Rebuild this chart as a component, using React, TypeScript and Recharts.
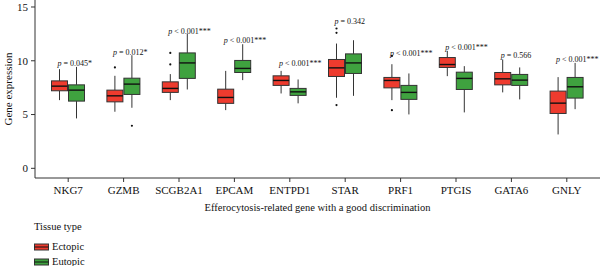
import React from 'react';
import { ComposedChart, Bar, XAxis, YAxis } from 'recharts';

const genes = ['NKG7', 'GZMB', 'SCGB2A1', 'EPCAM', 'ENTPD1', 'STAR', 'PRF1', 'PTGIS', 'GATA6', 'GNLY'];

// Ectopic tissue: five-number summaries + outliers
const ectopicMin = [6.34, 5.26, 6.34, 5.41, 6.96, 6.56, 6.34, 8.57, 7.06, 3.15];
const ectopicQ1 = [7.21, 6.18, 7.06, 6.04, 7.71, 8.54, 7.48, 9.38, 7.76, 5.1];
const ectopicMedian = [7.64, 6.74, 7.43, 6.59, 8.17, 9.34, 8.17, 9.65, 8.32, 6.06];
const ectopicQ3 = [8.13, 7.27, 8.04, 7.36, 8.6, 10.12, 8.45, 10.3, 8.91, 7.18];
const ectopicMax = [9.22, 8.6, 8.76, 9.06, 9.06, 11.6, 9.68, 10.92, 10.12, 8.48];
const ectopicOutliers = [[], [9.38], [10.73, 9.66], [], [], [13.0, 12.6, 5.88], [10.45, 5.41], [], [], []];

// Eutopic tissue
const eutopicMin = [4.64, 5.63, 7.33, 8.2, 6.04, 6.74, 5.01, 5.2, 6.41, 5.5];
const eutopicQ1 = [6.25, 6.87, 8.36, 8.91, 6.78, 8.82, 6.41, 7.33, 7.71, 6.53];
const eutopicMedian = [7.27, 7.83, 9.8, 9.29, 7.11, 9.8, 7.06, 8.36, 8.2, 7.58];
const eutopicQ3 = [7.76, 8.38, 10.73, 10.03, 7.43, 10.64, 7.71, 8.94, 8.73, 8.45];
const eutopicMax = [9.43, 10.52, 12.53, 11.54, 8.26, 11.91, 8.82, 9.5, 9.38, 9.8];
const eutopicOutliers = [[], [3.96], [], [], [], [], [], [], [], []];

// Wilcoxon p-values and the height they are printed at
const pText = ['= 0.045*', '= 0.012*', '< 0.001***', '< 0.001***', '< 0.001***', '= 0.342', '< 0.001***', '< 0.001***', '= 0.566', '< 0.001***'];
const pLabelAt = [9.78, 10.8, 12.78, 11.91, 9.8, 13.7, 10.68, 11.29, 10.49, 10.12];

const yTicks = [0, 5, 10, 15];

const RED = '#EE3B2E';
const GREEN = '#3FA23F';
const LINE = '#333';
const FONT = '"Liberation Serif", "Times New Roman", serif';

const rows = genes.map((gene, i) => ({
  gene,
  ectopicBox: [ectopicQ1[i], ectopicQ3[i]],
  eutopicBox: [eutopicQ1[i], eutopicQ3[i]],
  ectopic: {
    min: ectopicMin[i], q1: ectopicQ1[i], median: ectopicMedian[i], q3: ectopicQ3[i], max: ectopicMax[i],
    outliers: ectopicOutliers[i],
  },
  eutopic: {
    min: eutopicMin[i], q1: eutopicQ1[i], median: eutopicMedian[i], q3: eutopicQ3[i], max: eutopicMax[i],
    outliers: eutopicOutliers[i],
  },
  p: pText[i],
  pAt: pLabelAt[i],
}));

// draws whiskers, box, median and outliers from the bar's own pixel box
function BoxPlotShape(props: any) {
  const { x, y, width, height, payload, group, fill } = props;
  const s = payload[group];
  const top = Math.min(y, y + height);
  const h = Math.abs(height);
  const ppu = h / (s.q3 - s.q1);
  const toY = (v: number) => top + (s.q3 - v) * ppu;
  const cx = x + width / 2;
  return (
    <g>
      <line x1={cx} x2={cx} y1={toY(s.max)} y2={toY(s.q3)} stroke={LINE} strokeWidth={1} />
      <line x1={cx} x2={cx} y1={toY(s.q1)} y2={toY(s.min)} stroke={LINE} strokeWidth={1} />
      <rect x={x} y={top} width={width} height={h} fill={fill} stroke={LINE} strokeWidth={1} />
      <line x1={x} x2={x + width} y1={toY(s.median)} y2={toY(s.median)} stroke="#111" strokeWidth={1.4} />
      {s.outliers.map((v: number, k: number) => (
        <circle key={k} cx={cx} cy={toY(v)} r={1.1} fill="#111" />
      ))}
      {group === 'ectopic' && (
        <text x={cx - 2} y={toY(payload.pAt) + 3} fontSize={8} fontFamily={FONT} style={{ fill: '#111' }}>
          <tspan fontStyle="italic">p</tspan> {payload.p}
        </text>
      )}
    </g>
  );
}

function LegendKey({ fill }: { fill: string }) {
  return (
    <svg width={15} height={8} style={{ display: 'block' }}>
      <rect x={0.5} y={1} width={14} height={6} fill={fill} stroke={LINE} strokeWidth={1} />
      <line x1={0.5} x2={14.5} y1={4} y2={4} stroke="#111" strokeWidth={1} />
    </svg>
  );
}

export default function App() {
  return (
    <div style={{ position: 'absolute', left: 0, top: 0, width: 600, height: 266, background: '#fff', fontFamily: FONT }}>
      <ComposedChart
        width={600}
        height={266}
        data={rows}
        margin={{ top: 0, right: 0, left: 0, bottom: 48 }}
        barSize={16}
        barGap={1}
      >
        <XAxis
          dataKey="gene"
          interval={0}
          padding={{ left: 5.5, right: 5.5 }}
          height={40}
          tick={{ fontSize: 11, fill: '#111', fontFamily: FONT }}
          tickSize={4}
          tickMargin={4}
          stroke={LINE}
          label={{
            value: 'Efferocytosis-related gene with a good discrimination',
            position: 'insideBottom',
            offset: 7,
            style: { fontSize: 10.5, fill: '#111', fontFamily: FONT },
          }}
        />
        <YAxis
          width={35}
          domain={[-0.9, 15.65]}
          ticks={yTicks}
          allowDataOverflow
          tick={{ fontSize: 11, fill: '#111', fontFamily: FONT }}
          tickSize={4}
          tickMargin={3}
          stroke={LINE}
          label={{
            value: 'Gene expression',
            angle: -90,
            position: 'insideLeft',
            offset: 8,
            style: { textAnchor: 'middle', fontSize: 11, fill: '#111', fontFamily: FONT },
          }}
        />
        <Bar
          dataKey="ectopicBox"
          fill={RED}
          isAnimationActive={false}
          shape={(p: any) => <BoxPlotShape {...p} group="ectopic" fill={RED} />}
        />
        <Bar
          dataKey="eutopicBox"
          fill={GREEN}
          isAnimationActive={false}
          shape={(p: any) => <BoxPlotShape {...p} group="eutopic" fill={GREEN} />}
        />
      </ComposedChart>
      <div style={{ position: 'absolute', left: 34, top: 219, fontSize: 10.5, color: '#111', lineHeight: '15px' }}>
        <div>Tissue type</div>
        <div style={{ display: 'flex', alignItems: 'center', gap: 3, marginTop: 5 }}>
          <LegendKey fill={RED} />
          <span>Ectopic</span>
        </div>
        <div style={{ display: 'flex', alignItems: 'center', gap: 3 }}>
          <LegendKey fill={GREEN} />
          <span>Eutopic</span>
        </div>
      </div>
    </div>
  );
}
